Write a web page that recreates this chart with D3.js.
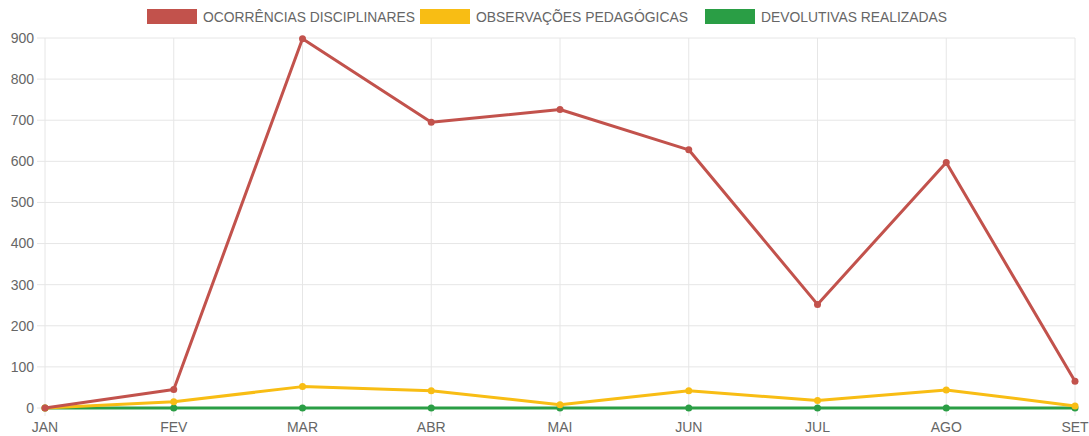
<!DOCTYPE html>
<html>
<head>
<meta charset="utf-8">
<script src="https://cdn.jsdelivr.net/npm/d3@7"></script>
<style>
  body { margin: 0; background: #fff; }
  text { font-family: "Liberation Sans", Arial, sans-serif; fill: #666; }
</style>
</head>
<body>
<div id="viz-container"></div>
<script>
// months on the x axis
let months = ["JAN", "FEV", "MAR", "ABR", "MAI", "JUN", "JUL", "AGO", "SET"];
let yTicks = [0, 100, 200, 300, 400, 500, 600, 700, 800, 900];

let ocorrencias = [0, 45, 898, 695, 726, 628, 252, 597, 65];
let observacoes = [0, 15, 52, 42, 8, 42, 18, 44, 5];
let devolutivas = [0, 0, 0, 0, 0, 0, 0, 0, 0];

let seriesNames = ["OCORRÊNCIAS DISCIPLINARES", "OBSERVAÇÕES PEDAGÓGICAS", "DEVOLUTIVAS REALIZADAS"];
let seriesColors = ["#c2524c", "#f8bd14", "#2a9e45"];

let width = 1089, height = 436;
let plotLeft = 45, plotRight = 1075, plotTop = 38, plotBottom = 408;

let viz = d3.select("#viz-container")
  .append("svg")
    .attr("width", width)
    .attr("height", height)
;

let x = d3.scalePoint().domain(months).range([plotLeft, plotRight]);
let y = d3.scaleLinear().domain([0, 900]).range([plotBottom, plotTop]);

// grid
viz.append("g").selectAll("line").data(yTicks).join("line")
    .attr("x1", plotLeft - 8).attr("x2", plotRight)
    .attr("y1", d => y(d)).attr("y2", d => y(d))
    .attr("stroke", "#e6e6e6").attr("stroke-width", 1);

viz.append("g").selectAll("line").data(months).join("line")
    .attr("x1", d => x(d)).attr("x2", d => x(d))
    .attr("y1", plotTop).attr("y2", plotBottom + 8)
    .attr("stroke", "#e6e6e6").attr("stroke-width", 1);

// tick labels
viz.append("g").selectAll("text").data(yTicks).join("text")
    .attr("x", plotLeft - 11)
    .attr("y", d => y(d))
    .attr("dy", "0.35em")
    .attr("text-anchor", "end")
    .attr("font-size", 14)
    .text(d => d);

viz.append("g").selectAll("text").data(months).join("text")
    .attr("x", d => x(d))
    .attr("y", plotBottom + 24)
    .attr("text-anchor", "middle")
    .attr("font-size", 14)
    .text(d => d);

// lines
let allSeries = [ocorrencias, observacoes, devolutivas];
let line = d3.line().x((d, i) => x(months[i])).y(d => y(d));

// draw green first, red last
[2, 1, 0].forEach(k => {
  let g = viz.append("g");
  g.append("path")
    .datum(allSeries[k])
    .attr("d", line)
    .attr("fill", "none")
    .attr("stroke", seriesColors[k])
    .attr("stroke-width", 3)
    .attr("stroke-linejoin", "round");
  g.selectAll("circle").data(allSeries[k]).join("circle")
    .attr("cx", (d, i) => x(months[i]))
    .attr("cy", d => y(d))
    .attr("r", 3.5)
    .attr("fill", seriesColors[k]);
});

// legend
let legendX = [147, 420, 705];
seriesNames.forEach((name, i) => {
  viz.append("rect")
    .attr("x", legendX[i]).attr("y", 9)
    .attr("width", 50).attr("height", 15)
    .attr("fill", seriesColors[i]);
  viz.append("text")
    .attr("x", legendX[i] + 56).attr("y", 17)
    .attr("dy", "0.35em")
    .attr("font-size", 14)
    .attr("textLength", [212, 212, 186][i])
    .attr("lengthAdjust", "spacingAndGlyphs")
    .text(name);
});
</script>
</body>
</html>
